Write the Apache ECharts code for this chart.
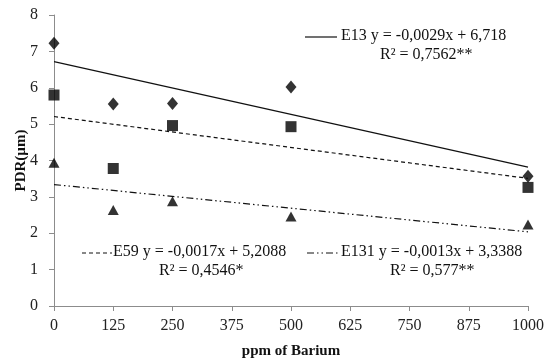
<!DOCTYPE html>
<html>
<head>
<meta charset="utf-8">
<script src="https://cdn.jsdelivr.net/npm/echarts@6/dist/echarts.min.js"></script>
<style>
  html, body { margin: 0; padding: 0; background: #fff; }
  #chart { width: 550px; height: 364px; }
</style>
</head>
<body>
<div id="chart"></div>
<script>
// doses (ppm of Barium)
const doses = [0, 125, 250, 500, 1000]
// observed PDR values
const e13 = [7.22, 5.55, 5.57, 6.02, 3.57]
const e59 = [5.8, 3.78, 4.96, 4.93, 3.26]
const e131 = [3.94, 2.64, 2.88, 2.46, 2.24]
// fitted trend lines, endpoints at x = 0 and x = 1000
const fitX = [0, 1000]
const fitE13 = [6.718, 3.818]
const fitE59 = [5.2088, 3.5088]
const fitE131 = [3.3388, 2.0388]

const pairs = (xs, ys) => xs.map((x, i) => [x, ys[i]])

const font = '"Liberation Serif", "Times New Roman", serif'
const axisColor = '#8c8c8c'
const eqFont = '16px ' + font

const chart = echarts.init(document.getElementById('chart'), null, { renderer: 'canvas' })

const option = {
  backgroundColor: '#fff',
  animation: false,
  grid: { left: 54, right: 22, top: 15, bottom: 58 },
  xAxis: {
    type: 'value',
    min: 0,
    max: 1000,
    interval: 125,
    name: 'ppm of Barium',
    nameLocation: 'middle',
    nameGap: 38,
    nameMoveOverlap: false,
    nameTextStyle: { fontFamily: font, fontWeight: 'bold', fontSize: 15, color: '#111' },
    axisLine: { lineStyle: { color: axisColor, width: 1 } },
    axisTick: { show: true, length: 5, lineStyle: { color: axisColor } },
    axisLabel: { fontFamily: font, fontSize: 16, color: '#222', margin: 12, formatter: (v) => String(v) },
    splitLine: { show: false },
  },
  yAxis: {
    type: 'value',
    min: 0,
    max: 8,
    interval: 1,
    name: 'PDR(µm)',
    nameLocation: 'middle',
    nameGap: 25,
    nameMoveOverlap: false,
    nameTextStyle: { fontFamily: font, fontWeight: 'bold', fontSize: 15, color: '#111' },
    axisLine: { show: true, lineStyle: { color: axisColor, width: 1 } },
    axisTick: { show: true, length: 5, lineStyle: { color: axisColor } },
    axisLabel: { fontFamily: font, fontSize: 16, color: '#222', margin: 16 },
    splitLine: { show: false },
  },
  series: [
    {
      name: 'E13 fit',
      type: 'line',
      data: pairs(fitX, fitE13),
      symbol: 'none',
      lineStyle: { color: '#111', width: 1.2, type: 'solid' },
    },
    {
      name: 'E59 fit',
      type: 'line',
      data: pairs(fitX, fitE59),
      symbol: 'none',
      lineStyle: { color: '#111', width: 1.2, type: [4, 3] },
    },
    {
      name: 'E131 fit',
      type: 'line',
      data: pairs(fitX, fitE131),
      symbol: 'none',
      lineStyle: { color: '#111', width: 1.2, type: [7, 3, 1.5, 3, 1.5, 3] },
    },
    {
      name: 'E13',
      type: 'scatter',
      data: pairs(doses, e13),
      symbol: 'diamond',
      symbolSize: [11, 13],
      itemStyle: { color: '#000' },
    },
    {
      name: 'E59',
      type: 'scatter',
      data: pairs(doses, e59),
      symbol: 'rect',
      symbolSize: 11,
      itemStyle: { color: '#000' },
    },
    {
      name: 'E131',
      type: 'scatter',
      data: pairs(doses, e131),
      symbol: 'triangle',
      symbolSize: [11, 10],
      itemStyle: { color: '#000' },
    },
  ],
  // equation labels with their line keys
  graphic: [
    { type: 'line', shape: { x1: 305, y1: 37, x2: 337, y2: 37 }, style: { stroke: '#111', lineWidth: 1.2 } },
    { type: 'text', left: 341, top: 28, style: { text: 'E13 y = -0,0029x + 6,718', font: eqFont, fill: '#111' } },
    { type: 'text', left: 380, top: 47, style: { text: 'R² = 0,7562**', font: eqFont, fill: '#111' } },

    { type: 'line', shape: { x1: 82, y1: 253, x2: 112, y2: 253 }, style: { stroke: '#111', lineWidth: 1.2, lineDash: [4, 3] } },
    { type: 'text', left: 113, top: 244, style: { text: 'E59 y = -0,0017x + 5,2088', font: eqFont, fill: '#111' } },
    { type: 'text', left: 159, top: 263, style: { text: 'R² = 0,4546*', font: eqFont, fill: '#111' } },

    { type: 'line', shape: { x1: 307, y1: 253, x2: 340, y2: 253 }, style: { stroke: '#111', lineWidth: 1.2, lineDash: [7, 3, 1.5, 3, 1.5, 3] } },
    { type: 'text', left: 341, top: 244, style: { text: 'E131 y = -0,0013x + 3,3388', font: eqFont, fill: '#111' } },
    { type: 'text', left: 390, top: 263, style: { text: 'R² = 0,577**', font: eqFont, fill: '#111' } },
  ],
}

chart.setOption(option)
</script>
</body>
</html>
